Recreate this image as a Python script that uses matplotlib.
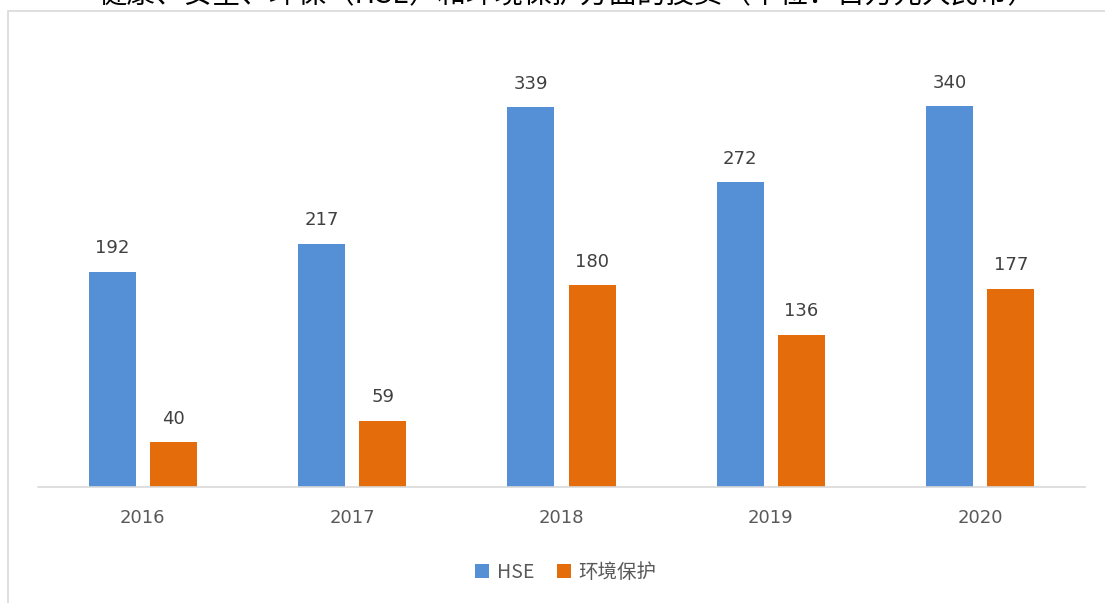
import matplotlib
matplotlib.use("Agg")
import matplotlib.pyplot as plt
import numpy as np
from matplotlib.patches import Rectangle

plt.rcParams["font.family"] = ["Noto Sans CJK SC", "DejaVu Sans"]

years = ["2016", "2017", "2018", "2019", "2020"]
hse = [192, 217, 339, 272, 340]
env = [40, 59, 180, 136, 177]
series_names = ["HSE", "环境保护"]
title = "健康、安全、环保（HSE）和环境保护方面的投资（单位：百万元人民币）"

blue = "#5590D6"
orange = "#E46C0A"

W, H = 1105, 603
fig = plt.figure(figsize=(W / 100, H / 100), dpi=100)

# outer chart frame (left and top edges visible)
fig.patches.append(Rectangle((8 / W, -0.1), 1.2, 1 - 11 / H + 0.1,
                             transform=fig.transFigure, fill=False,
                             edgecolor="#d9d9d9", lw=1.2))

# title, cropped at the top of the image like in the source screenshot
fig.text(567 / W, 1 - 3 / H, title, ha="center", va="baseline",
         fontsize=20.5, color="black")

ax = fig.add_axes([38 / W, 116 / H, (1085 - 38) / W, 448 / H])
x = np.arange(len(years))
width = 0.224
off = 0.146
b1 = ax.bar(x - off, hse, width, color=blue, label=series_names[0])
b2 = ax.bar(x + off, env, width, color=orange, label=series_names[1])

for bars in (b1, b2):
    for rect in bars:
        ax.annotate(f"{int(rect.get_height())}",
                    (rect.get_x() + rect.get_width() / 2, rect.get_height()),
                    xytext=(0, 10.5), textcoords="offset points",
                    ha="center", va="bottom", fontsize=13, color="#404040",
                    family="DejaVu Sans")

ax.set_xlim(-0.5, len(years) - 0.5)
ax.set_ylim(0, 400)
ax.set_xticks(x)
ax.set_xticklabels(years, fontsize=13, color="#595959", family="DejaVu Sans")
ax.tick_params(axis="x", length=0, pad=16)
ax.set_yticks([])
for s in ("left", "right", "top"):
    ax.spines[s].set_visible(False)
ax.spines["bottom"].set_color("#d9d9d9")
ax.spines["bottom"].set_linewidth(1.2)

fig.legend(loc="center", bbox_to_anchor=(566 / W, 1 - 572 / H), ncol=2,
           frameon=False, fontsize=14, handlelength=0.7, handleheight=0.7,
           handletextpad=0.4, columnspacing=1.2, labelcolor="#595959")

fig.savefig("out.png", dpi=100)
